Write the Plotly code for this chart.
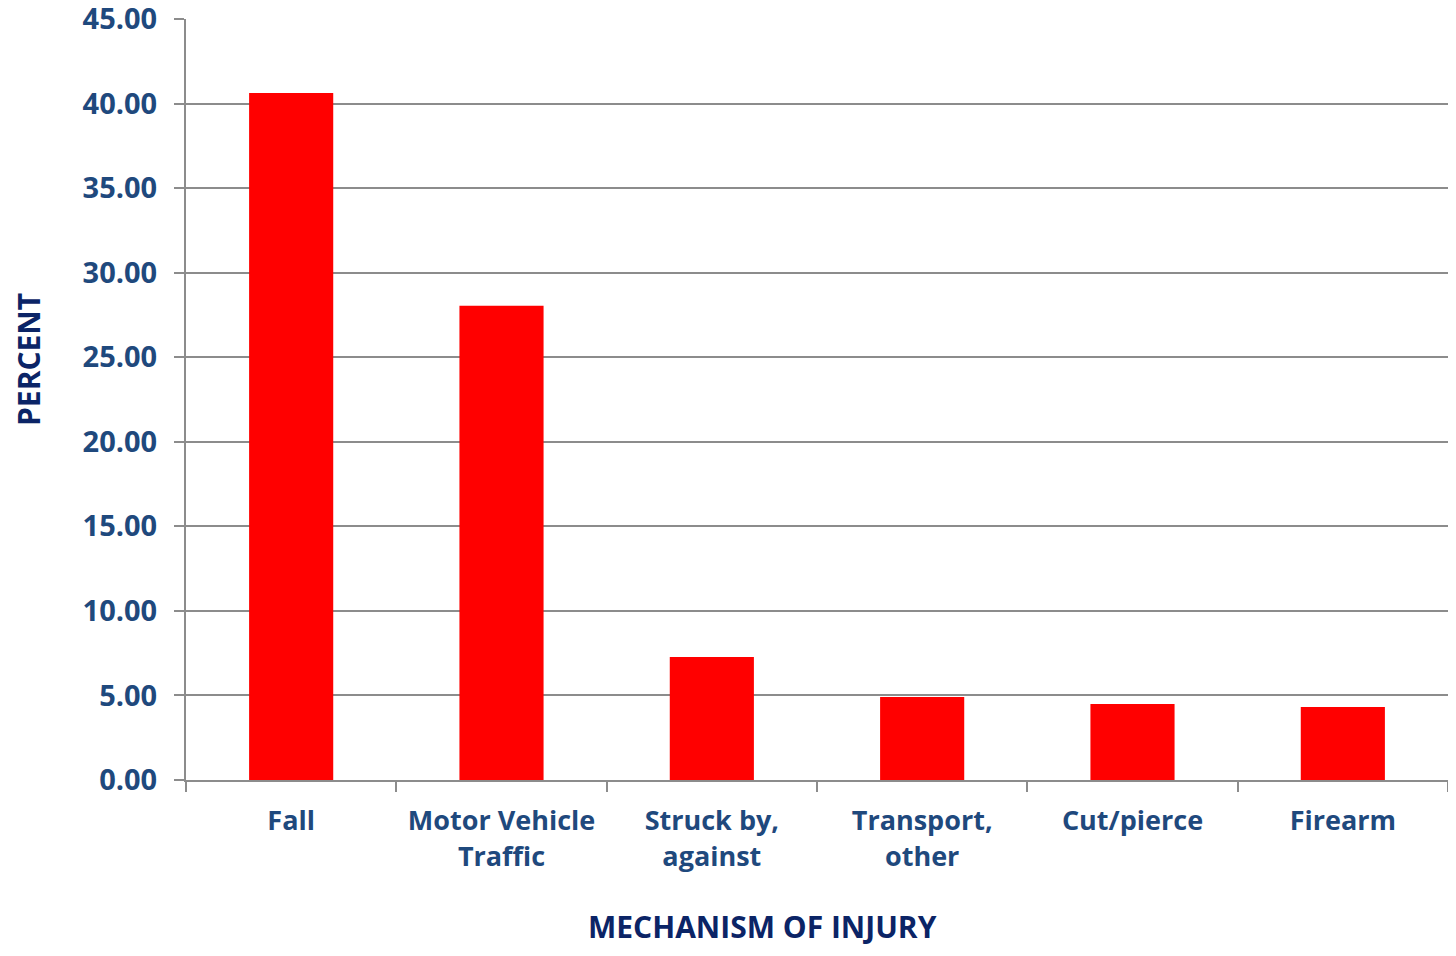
import plotly.graph_objects as go

categories = ["Fall", "Motor Vehicle<br>Traffic", "Struck by,<br>against", "Transport,<br>other", "Cut/pierce", "Firearm"]
percent = [40.62, 28.05, 7.27, 4.91, 4.49, 4.32]
y_ticks = [0, 5, 10, 15, 20, 25, 30, 35, 40, 45]
y_tick_labels = ["%.2f" % v for v in y_ticks]

FONT = "Open Sans"
TICK_COLOR = "#1F497D"
TITLE_COLOR = "#0B2466"
GRID = "#8C8C8C"

# page body has an 8px margin on every side; keep the figure inside the viewport
OFF = 8
W, H = 1456 - 2 * OFF, 956 - 2 * OFF
L, R, T = 186 - OFF, 0, 19 - OFF
B = OFF + H - 780

fig = go.Figure()
fig.add_trace(go.Bar(
    x=categories, y=percent,
    marker=dict(color="#FF0000", line=dict(width=0)),
    width=0.4,
    showlegend=False,
))

fig.update_layout(
    width=W, height=H,
    margin=dict(l=L, r=R, t=T, b=B, pad=0, autoexpand=False),
    paper_bgcolor="white", plot_bgcolor="white",
    font=dict(family=FONT, color=TICK_COLOR),
    xaxis=dict(
        tickfont=dict(family=FONT, size=27, color=TICK_COLOR, weight="bold"),
        showline=True, linecolor=GRID, linewidth=2,
        ticks="outside", ticklen=10, tickcolor=GRID, tickwidth=2,
        tickson="boundaries",
        ticklabelstandoff=16,
        showgrid=False,
        automargin=False,
    ),
    yaxis=dict(
        range=[0, 45], tickvals=y_ticks, ticktext=y_tick_labels,
        tickfont=dict(family=FONT, size=29, color=TICK_COLOR, weight="bold"),
        showline=True, linecolor=GRID, linewidth=2,
        ticks="outside", ticklen=10, tickcolor=GRID, tickwidth=2,
        ticklabelstandoff=11,
        ticklabeloverflow="allow",
        showgrid=True, gridcolor=GRID, gridwidth=2,
        zeroline=False,
        automargin=False,
    ),
)

pw = W - L - R
ph = H - T - B
titles = [
    ("PERCENT", 28, 360, -90),
    ("MECHANISM OF INJURY", 762, 927, 0),
]
for text, px, py, ang in titles:
    fig.add_annotation(
        text=text, showarrow=False, textangle=ang,
        xref="paper", yref="paper",
        x=(px - OFF - L) / pw, y=(H - B - (py - OFF)) / ph,
        xanchor="center", yanchor="middle",
        font=dict(family=FONT, size=30, color=TITLE_COLOR, weight="bold"),
    )

fig.write_html("out.html")
